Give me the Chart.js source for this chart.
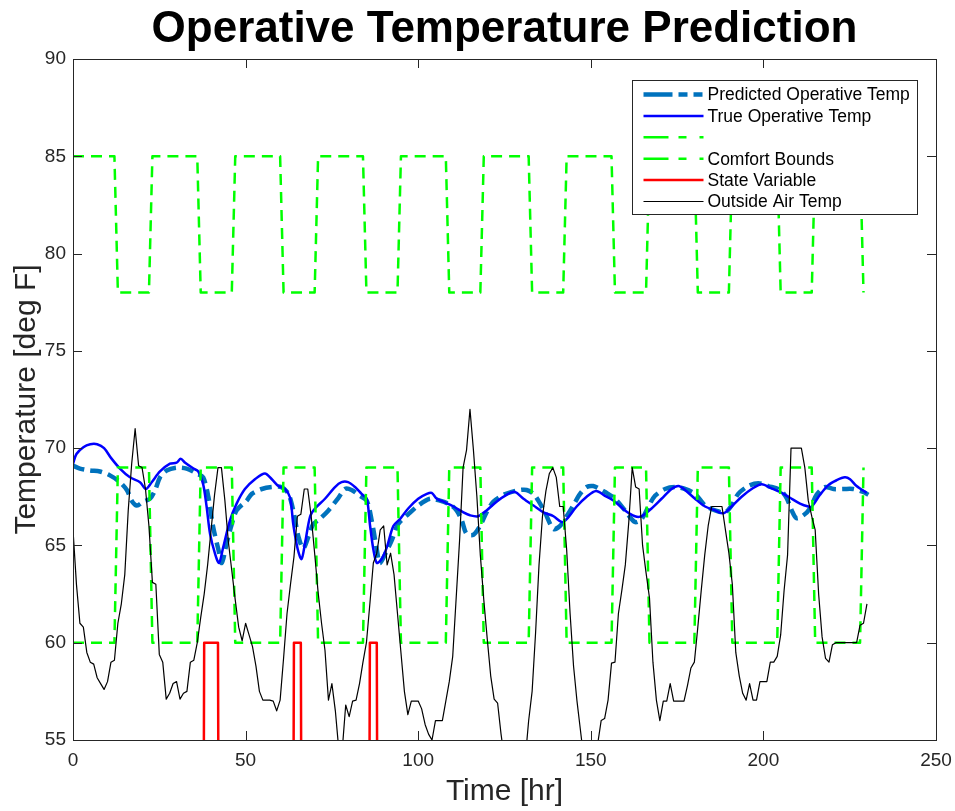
<!DOCTYPE html>
<html>
<head>
<meta charset="utf-8">
<title>Operative Temperature Prediction</title>
<script src="https://cdn.jsdelivr.net/npm/chart.js@4.4.1/dist/chart.umd.min.js"></script>
<style>
  html, body { margin: 0; padding: 0; background: #fff; }
  #wrap { width: 955px; height: 811px; }
</style>
</head>
<body>
<div id="wrap"><canvas id="opTempChart" width="955" height="811"></canvas></div>
<script>
// Series (hours, deg F)
const predHours = [0, 2, 4.9, 7.8, 10.7, 13.6, 15.6, 17, 18.5, 20.4, 22.3, 23.8, 25.2, 27.1, 30, 32.9, 35.8, 37.7, 39.2, 40.6, 42.1, 43.1, 44.5, 46, 47.4, 50.3, 51.8, 54.7, 57.6, 60.4, 62.4, 63.8, 65.3, 66.7, 68.2, 69.6, 71.1, 74, 76.9, 78.8, 80.7, 83.1, 85.1, 86.5, 88, 88.9, 90.4, 92.3, 94.2, 97.1, 100, 103.4, 106.3, 109.2, 111.1, 112.6, 114, 116, 117.9, 119.8, 121.8, 124.7, 127.1, 129.5, 131.4, 133.4, 134.8, 136.7, 139.2, 141.1, 143, 144.9, 146.9, 148.8, 150.7, 152.6, 154.1, 157, 159.9, 162.8, 164.7, 166.7, 168.6, 171.5, 174.4, 177.3, 180.2, 183.1, 186, 188.9, 190.8, 192.7, 195.6, 198.5, 201.4, 204.8, 206.7, 208.2, 209.6, 211.6, 213.5, 215.4, 217.8, 220.3, 223.2, 226, 228.9, 230.4];
const predTemps = [69.1, 68.95, 68.85, 68.8, 68.6, 68.25, 67.85, 67.3, 67.05, 67.25, 67.4, 67.85, 68.5, 68.85, 69.0, 68.95, 68.7, 68.5, 67.5, 65.95, 64.8, 64.1, 65.1, 66.1, 66.8, 67.3, 67.65, 67.9, 68.0, 68.0, 67.65, 66.8, 65.45, 64.85, 65.45, 66.1, 66.3, 66.8, 67.45, 67.9, 67.85, 67.55, 67.3, 66.3, 64.8, 64.1, 64.55, 65.25, 66.1, 66.6, 67.05, 67.4, 67.3, 67.1, 66.8, 66.3, 65.6, 65.55, 66.0, 66.7, 67.25, 67.6, 67.75, 67.85, 67.85, 67.65, 67.3, 66.7, 65.85, 66.0, 66.5, 67.05, 67.65, 68.0, 68.05, 67.9, 67.75, 67.4, 66.8, 66.2, 66.35, 67.0, 67.55, 67.9, 68.0, 67.9, 67.65, 67.05, 66.8, 66.7, 67.05, 67.65, 68.05, 68.2, 68.05, 67.85, 67.45, 66.8, 66.4, 66.55, 66.9, 67.6, 68.0, 67.9, 67.9, 67.9, 67.75, 67.6];

const trueHours = [0, 1, 3, 5, 7, 9, 11, 13.6, 16.5, 19.4, 21.1, 22.8, 25.2, 28.1, 30, 31.2, 32.5, 34.9, 36.3, 37.7, 38.7, 39.7, 41.1, 42.3, 43.5, 45.5, 47.4, 49.8, 52.7, 55.6, 57.6, 59.5, 61.4, 62.9, 63.8, 65.1, 66.2, 67.2, 68.7, 70.1, 73, 75.9, 77.8, 79.7, 81.7, 83.6, 85.1, 86, 87, 88, 89.4, 90.9, 92.8, 94.7, 97.1, 100, 102.5, 103.9, 105.4, 107.3, 110.2, 113.1, 115, 117.4, 119.8, 122.7, 125.6, 128, 130.5, 133.4, 136.3, 139.2, 141.6, 143, 145.9, 148.8, 151.5, 154.1, 157, 159.9, 162.8, 164.7, 167.6, 170.5, 173.4, 175.4, 177.3, 180.2, 183.1, 186, 188.4, 190.8, 193.7, 196.6, 199.5, 202.2, 204.8, 207.7, 210.6, 213, 214, 216.4, 218.8, 221.2, 223.6, 225.1, 227, 229.9];
const trueTemps = [69.2, 69.7, 70.05, 70.2, 70.2, 70.0, 69.5, 68.95, 68.5, 68.25, 67.9, 68.25, 68.8, 69.2, 69.25, 69.45, 69.25, 68.95, 68.8, 68.15, 67.0, 65.6, 64.6, 64.1, 64.9, 66.3, 67.15, 67.9, 68.4, 68.7, 68.4, 68.05, 67.9, 67.45, 66.1, 64.8, 64.3, 65.1, 66.5, 66.9, 67.4, 68.0, 68.25, 68.25, 68.0, 67.65, 67.4, 66.1, 64.8, 64.1, 64.3, 64.9, 66.0, 66.35, 66.9, 67.4, 67.65, 67.7, 67.4, 67.25, 67.0, 66.7, 66.55, 66.5, 66.8, 67.25, 67.6, 67.75, 67.4, 67.05, 66.7, 66.5, 66.2, 66.35, 67.0, 67.5, 67.8, 67.55, 67.25, 66.8, 66.5, 66.5, 66.9, 67.4, 67.9, 68.05, 67.85, 67.4, 67.0, 66.8, 66.65, 67.0, 67.5, 67.9, 68.15, 67.95, 67.75, 67.45, 67.15, 67.0, 67.0, 67.6, 68.1, 68.35, 68.5, 68.4, 68.05, 67.7];

const boundHours = [0, 12, 13, 22, 23, 36, 37, 46, 47, 60, 61, 70, 71, 84, 85, 94, 95, 108, 109, 118, 119, 132, 133, 142, 143, 156, 157, 166, 167, 180, 181, 190, 191, 204, 205, 214, 215, 228, 229];
const upperBound = [85, 85, 78, 78, 85, 85, 78, 78, 85, 85, 78, 78, 85, 85, 78, 78, 85, 85, 78, 78, 85, 85, 78, 78, 85, 85, 78, 78, 85, 85, 78, 78, 85, 85, 78, 78, 85, 85, 78];
const lowerBound = [60, 60, 69, 69, 60, 60, 69, 69, 60, 60, 69, 69, 60, 60, 69, 69, 60, 60, 69, 69, 60, 60, 69, 69, 60, 60, 69, 69, 60, 60, 69, 69, 60, 60, 69, 69, 60, 60, 69];

const stateHours = [0, 37, 38, 42, 43, 63, 64, 66, 67, 85, 86, 88, 89, 230];
const stateValues = [0, 0, 60, 60, 0, 0, 60, 60, 0, 0, 60, 60, 0, 0];

const oatHours = [0, 1, 2, 3, 4, 5, 6, 7, 8, 9, 10, 11, 12, 13, 14, 15, 16, 17, 18, 19, 20, 21, 22, 23, 24, 25, 26, 27, 28, 29, 30, 31, 32, 33, 34, 35, 36, 37, 38, 39, 40, 41, 42, 43, 44, 45, 46, 47, 48, 49, 50, 51, 52, 53, 54, 55, 56, 57, 58, 59, 60, 61, 62, 63, 64, 65, 66, 67, 68, 69, 70, 71, 72, 73, 74, 75, 76, 77, 78, 79, 80, 81, 82, 83, 84, 85, 86, 87, 88, 89, 90, 91, 92, 93, 94, 95, 96, 97, 98, 99, 100, 101, 102, 103, 104, 105, 106, 107, 108, 109, 110, 111, 112, 113, 114, 115, 116, 117, 118, 119, 120, 121, 122, 123, 124, 125, 126, 130, 131, 132, 133, 134, 135, 136, 137, 138, 139, 140, 141, 142, 143, 144, 145, 146, 147, 148, 151, 152, 153, 154, 155, 156, 157, 158, 159, 160, 161, 162, 163, 164, 165, 166, 167, 168, 169, 170, 171, 172, 173, 174, 175, 176, 177, 178, 179, 180, 181, 182, 183, 184, 185, 186, 187, 188, 189, 190, 191, 192, 193, 194, 195, 196, 197, 198, 199, 200, 201, 202, 203, 204, 205, 206, 207, 208, 209, 210, 211, 212, 213, 214, 215, 216, 217, 218, 219, 220, 221, 222, 223, 224, 225, 226, 227, 228, 229, 230];
const oatTemps = [65.8, 63.0, 61.0, 60.8, 59.5, 59.0, 58.9, 58.2, 57.9, 57.6, 58.0, 59.0, 59.1, 61.0, 62.0, 63.5, 66.8, 69.2, 71.0, 69.1, 69.0, 67.9, 66.0, 63.1, 63.0, 59.4, 59.0, 57.1, 57.4, 57.9, 58.0, 57.1, 57.4, 57.5, 59.0, 59.1, 60.0, 61.3, 62.5, 64.0, 65.8, 67.6, 69.0, 69.0, 67.3, 65.2, 63.7, 62.2, 60.8, 60.1, 61.0, 60.4, 59.8, 58.8, 57.5, 57.05, 57.05, 57.05, 57.0, 56.5, 57.05, 59.2, 61.5, 63.0, 64.4, 66.5, 66.6, 67.9, 67.9, 66.5, 64.6, 62.6, 61.0, 59.6, 57.05, 57.9, 56.5, 54.5, 54.5, 56.8, 56.2, 57.0, 57.05, 57.9, 59.0, 60.0, 62.0, 64.1, 64.6, 65.8, 66.0, 64.0, 64.6, 63.5, 61.5, 59.5, 57.5, 56.3, 57.0, 57.0, 57.0, 56.6, 55.8, 55.3, 55.0, 56.0, 56.0, 56.0, 57.0, 58.0, 59.3, 62.3, 65.3, 69.0, 69.9, 72.0, 69.9, 67.5, 64.5, 62.2, 60.2, 58.3, 57.1, 56.9, 55.3, 54.0, 53.0, 53.0, 54.0, 56.0, 57.5, 60.5, 64.0, 66.5, 67.8, 68.7, 69.0, 68.5, 67.0, 67.0, 64.8, 61.5, 58.8, 57.0, 55.5, 54.0, 54.0, 54.8, 56.0, 56.1, 57.05, 58.95, 59.0, 61.5, 62.7, 64.0, 66.2, 69.0, 68.0, 67.9, 65.0, 63.6, 62.3, 59.0, 57.05, 56.0, 57.0, 57.0, 57.9, 57.0, 57.0, 57.0, 57.0, 57.8, 58.7, 59.0, 60.8, 62.7, 64.5, 66.0, 67.0, 67.0, 67.0, 67.0, 65.8, 64.6, 63.0, 59.5, 58.3, 57.4, 57.05, 57.9, 57.05, 57.05, 58.0, 58.0, 58.0, 59.0, 59.0, 59.3, 60.4, 62.7, 64.5, 70.0, 70.0, 70.0, 70.0, 69.0, 67.3, 66.5, 65.8, 62.5, 60.3, 59.2, 59.0, 59.9, 60.0, 60.0, 60.0, 60.0, 60.0, 60.0, 60.0, 60.9, 61.0, 62.0, 63.6];

const chartTitle = 'Operative Temperature Prediction';
const legendLabels = ['Predicted Operative Temp', 'True Operative Temp', '', 'Comfort Bounds', 'State Variable', 'Outside Air Temp'];
const xTicks = [0, 50, 100, 150, 200, 250];
const yTicks = [55, 60, 65, 70, 75, 80, 85, 90];

const AXIS_COLOR = '#262626';
const FONT = "'Liberation Sans', Arial, Helvetica, sans-serif";

function toPoints(xs, ys) {
    return xs.map((x, i) => ({ x: x, y: ys[i] }));
}

// Legend styles (sample line look for each entry)
const legendStyles = [
    { color: '#0072bd', width: 4.5, dash: [29, 6, 9, 6, 9, 6] },
    { color: '#0000ff', width: 2.5, dash: [] },
    { color: '#00ff00', width: 2.5, dash: [25, 10, 8, 13, 4, 10] },
    { color: '#00ff00', width: 2.5, dash: [25, 10, 8, 13, 4, 10] },
    { color: '#ff0000', width: 2.5, dash: [] },
    { color: '#000000', width: 1.2, dash: [] }
];

// Title over the axes, box, inward ticks and the in-axes legend, MATLAB style
const matlabAxes = {
    id: 'matlabAxes',
    afterDatasetsDraw(chart) {
        const ctx = chart.ctx;
        const area = chart.chartArea;
        const xs = chart.scales.x;
        const ys = chart.scales.y;
        const tickLen = 9;

        ctx.save();

        // title centred on the axes
        ctx.fillStyle = '#000000';
        ctx.font = 'bold 44px ' + FONT;
        ctx.textAlign = 'center';
        ctx.textBaseline = 'alphabetic';
        ctx.fillText(chartTitle, (area.left + area.right) / 2, 42);

        ctx.strokeStyle = AXIS_COLOR;
        ctx.lineWidth = 1;
        ctx.setLineDash([]);

        // ticks
        ctx.beginPath();
        xTicks.forEach(v => {
            const px = Math.round(xs.getPixelForValue(v)) + 0.5;
            ctx.moveTo(px, area.bottom);
            ctx.lineTo(px, area.bottom - tickLen);
            ctx.moveTo(px, area.top);
            ctx.lineTo(px, area.top + tickLen);
        });
        yTicks.forEach(v => {
            const py = Math.round(ys.getPixelForValue(v)) + 0.5;
            ctx.moveTo(area.left, py);
            ctx.lineTo(area.left + tickLen, py);
            ctx.moveTo(area.right, py);
            ctx.lineTo(area.right - tickLen, py);
        });
        ctx.stroke();

        // box
        ctx.strokeRect(Math.round(area.left) + 0.5, Math.round(area.top) + 0.5,
            Math.round(area.right - area.left), Math.round(area.bottom - area.top));

        // legend
        const boxW = 285, boxH = 134;
        const bx = Math.round(area.right - 19 - boxW) + 0.5;
        const by = Math.round(area.top + 21) + 0.5;
        ctx.fillStyle = '#ffffff';
        ctx.fillRect(bx, by, boxW, boxH);
        ctx.strokeStyle = AXIS_COLOR;
        ctx.lineWidth = 1;
        ctx.strokeRect(bx, by, boxW, boxH);

        ctx.font = '17.5px ' + FONT;
        ctx.textBaseline = 'middle';
        ctx.textAlign = 'left';
        legendLabels.forEach((label, i) => {
            const st = legendStyles[i];
            const rowY = by + 14 + i * 21.4;
            ctx.beginPath();
            ctx.strokeStyle = st.color;
            ctx.lineWidth = st.width;
            ctx.setLineDash(st.dash);
            ctx.moveTo(bx + 11, rowY);
            ctx.lineTo(bx + 71, rowY);
            ctx.stroke();
            ctx.setLineDash([]);
            ctx.fillStyle = '#000000';
            ctx.fillText(label, bx + 75, rowY + 1);
        });
        ctx.restore();
    }
};

const ctx = document.getElementById('opTempChart').getContext('2d');
const opTempChart = new Chart(ctx, {
    type: 'line',
    data: {
        datasets: [
            {
                label: legendLabels[0],
                data: toPoints(predHours, predTemps),
                borderColor: '#0072bd',
                borderWidth: 4.5,
                borderDash: [12, 6],
                tension: 0.3,
                order: 6
            },
            {
                label: legendLabels[1],
                data: toPoints(trueHours, trueTemps),
                borderColor: '#0000ff',
                borderWidth: 2.5,
                tension: 0.3,
                order: 5
            },
            {
                label: legendLabels[2],
                data: toPoints(boundHours, upperBound),
                borderColor: '#00ff00',
                borderWidth: 2.5,
                borderDash: [11, 7],
                order: 4
            },
            {
                label: legendLabels[3],
                data: toPoints(boundHours, lowerBound),
                borderColor: '#00ff00',
                borderWidth: 2.5,
                borderDash: [11, 7],
                order: 3
            },
            {
                label: legendLabels[4],
                data: toPoints(stateHours, stateValues),
                borderColor: '#ff0000',
                borderWidth: 2.5,
                order: 2
            },
            {
                label: legendLabels[5],
                data: toPoints(oatHours, oatTemps),
                borderColor: '#000000',
                borderWidth: 1.2,
                order: 1
            }
        ]
    },
    options: {
        responsive: false,
        animation: false,
        devicePixelRatio: 1,
        datasets: {
            line: {
                pointRadius: 0,
                pointHoverRadius: 0,
                fill: false,
                clip: 0,
                borderJoinStyle: 'round'
            }
        },
        layout: {
            padding: { left: 0, right: 19, top: 59, bottom: 0 }
        },
        plugins: {
            legend: { display: false },
            tooltip: { enabled: false },
            title: { display: false }
        },
        scales: {
            x: {
                type: 'linear',
                min: 0,
                max: 250,
                grid: { display: false, drawTicks: false },
                border: { display: false },
                ticks: {
                    stepSize: 50,
                    padding: 9,
                    maxRotation: 0,
                    color: AXIS_COLOR,
                    font: { family: FONT, size: 19 }
                },
                title: {
                    display: true,
                    text: 'Time [hr]',
                    color: AXIS_COLOR,
                    font: { family: FONT, size: 30 },
                    padding: { top: 0, bottom: 1 }
                },
                afterFit(scale) {
                    scale.height = 71;
                    scale.paddingLeft = 0;
                    scale.paddingRight = 0;
                }
            },
            y: {
                min: 55,
                max: 90,
                grid: { display: false, drawTicks: false },
                border: { display: false },
                ticks: {
                    stepSize: 5,
                    padding: 7,
                    color: AXIS_COLOR,
                    font: { family: FONT, size: 19 }
                },
                title: {
                    display: true,
                    text: 'Temperature [deg F]',
                    color: AXIS_COLOR,
                    font: { family: FONT, size: 30 },
                    padding: { top: 9, bottom: 0 }
                },
                afterFit(scale) {
                    scale.width = 73;
                    scale.paddingTop = 0;
                    scale.paddingBottom = 0;
                }
            }
        }
    },
    plugins: [matlabAxes]
});
</script>
</body>
</html>
